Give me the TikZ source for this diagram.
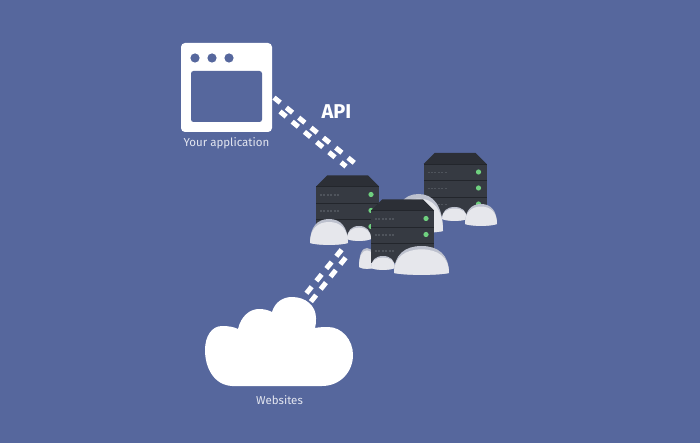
\documentclass[tikz,border=0pt]{standalone}
\usepackage{fontspec}
\setmainfont{Fira Sans}
\definecolor{bgblue}{HTML}{56679D}
\definecolor{srvbody}{HTML}{363A42}
\definecolor{srvtop}{HTML}{2C2F36}
\definecolor{srvline}{HTML}{23262C}
\definecolor{srvmark}{HTML}{4F545C}
\definecolor{led}{HTML}{6FD07F}
\definecolor{hillbase}{HTML}{BDC1CE}
\definecolor{hilltop}{HTML}{E6E7EC}
\definecolor{labeltext}{HTML}{E3E6F0}
\tikzset{
  link/.style={draw=white,line width=5pt,dash pattern=on 8pt off 7.9pt},
  lowlink/.style={draw=white,line width=5pt,dash pattern=on 8.4pt off 7.47pt},
  caption/.style={text=labeltext,font=\fontsize{11.5}{13}\selectfont,inner sep=0pt},
  apilabel/.style={text=white,font=\fontsize{20}{22}\selectfont\bfseries,inner sep=0pt},
}
\newcommand\srvunit[2]{%
  \begin{scope}[shift={(#1,#2)}]
    \fill[srvtop] (11,0) -- (52,0) -- (63,11) -- (0,11) -- cycle;
    \fill[srvbody] (0,11) rectangle (63,63);
    \foreach \r in {0,1,2}{
      \fill[srvline] (0,{11+16.3*\r}) rectangle (63,{12+16.3*\r});
      \fill[led] (55,{19+16*\r}) circle (2.6);
      \draw[srvmark,line width=1.1pt,dash pattern=on 2pt off 1.4pt] (4,{19.5+16*\r}) -- (24,{19.5+16*\r});
    }
  \end{scope}}
\newcommand\hill[4]{% left, right, top, bottom
  \fill[hillbase] (#1,{#4-1}) .. controls (#1,{#3+0.3*(#4-#3)}) and ({#1+0.2*(#2-#1)},#3) .. ({0.5*(#1+#2)},#3)
     .. controls ({#2-0.2*(#2-#1)},#3) and (#2,{#3+0.3*(#4-#3)}) .. (#2,{#4-1})
     .. controls ({#2-0.2*(#2-#1)},{#4+1.5}) and ({#1+0.2*(#2-#1)},{#4+1.5}) .. (#1,{#4-1}) -- cycle;
  \fill[hilltop] (#1,{#4-1}) .. controls (#1,{#3+0.4*(#4-#3)}) and ({#1+0.2*(#2-#1)},{#3+0.12*(#4-#3)}) .. ({0.5*(#1+#2)},{#3+0.12*(#4-#3)})
     .. controls ({#2-0.2*(#2-#1)},{#3+0.12*(#4-#3)}) and (#2,{#3+0.4*(#4-#3)}) .. (#2,{#4-1})
     .. controls ({#2-0.2*(#2-#1)},{#4+1.5}) and ({#1+0.2*(#2-#1)},{#4+1.5}) .. (#1,{#4-1}) -- cycle;}
\begin{document}
\begin{tikzpicture}[x=1pt,y=-1pt]
  \useasboundingbox (0,0) rectangle (700,443);
  \fill[bgblue] (0,0) rectangle (700,443);

  % application window
  \fill[white,rounded corners=4pt] (181,43) rectangle (272,132);
  \fill[bgblue,rounded corners=2.5pt] (191,71) rectangle (262,122);
  \foreach \x in {195,212,229} \fill[bgblue] (\x,58) circle (4.6);
  \node[caption] (yourapp) at (226.5,143) {Your application};
  \node[apilabel] (api) at (336.5,112) {API};

  % API connector
  \coordinate (apiA) at (274,97.6);
  \coordinate (apiAend) at (355,163.4);
  \coordinate (apiB) at (280,111.5);
  \coordinate (apiBend) at (346,166.5);
  \draw[link] (apiA) -- (apiAend);
  \draw[link] (apiB) -- (apiBend);

  % servers
  \srvunit{423.5}{153}
  \hill{394}{443}{194}{232}
  \hill{442}{467}{207}{220}
  \hill{465}{497}{204}{225}

  \srvunit{316}{175.5}
  \hill{310}{348}{219}{244}
  \hill{347}{371}{226}{240}

  \hill{359}{375}{248}{268}
  \srvunit{371}{199.5}
  \hill{371}{395}{256}{269}
  \hill{394}{449}{246}{274}

  % website connector
  \coordinate (webA) at (341.6,249.7);
  \coordinate (webAend) at (306.4,293.3);
  \coordinate (webB) at (345.6,257.7);
  \coordinate (webBend) at (310.4,302.3);
  \draw[lowlink] (webA) -- (webAend);
  \draw[lowlink] (webB) -- (webBend);

  % websites cloud
  \fill[white] (232,386)
     .. controls (214,385) and (205,368) .. (205,350)
     .. controls (205,336) and (212,326) .. (222,326)
     .. controls (229,326) and (234,327) .. (238,329)
     .. controls (241,316) and (250,309) .. (259,309)
     .. controls (264,309) and (268,310) .. (272,312)
     .. controls (275,302) and (283,297) .. (292,297)
     .. controls (306,297) and (316,306) .. (316,318)
     .. controls (316,322) and (316,325) .. (315,328)
     .. controls (320,327) and (325,327) .. (328,327)
     .. controls (342,327) and (353,340) .. (353,355)
     .. controls (353,372) and (340,386) .. (322,386)
     -- cycle;
  \node[caption] (websites) at (279.5,400.5) {Websites};
\end{tikzpicture}
\end{document}
